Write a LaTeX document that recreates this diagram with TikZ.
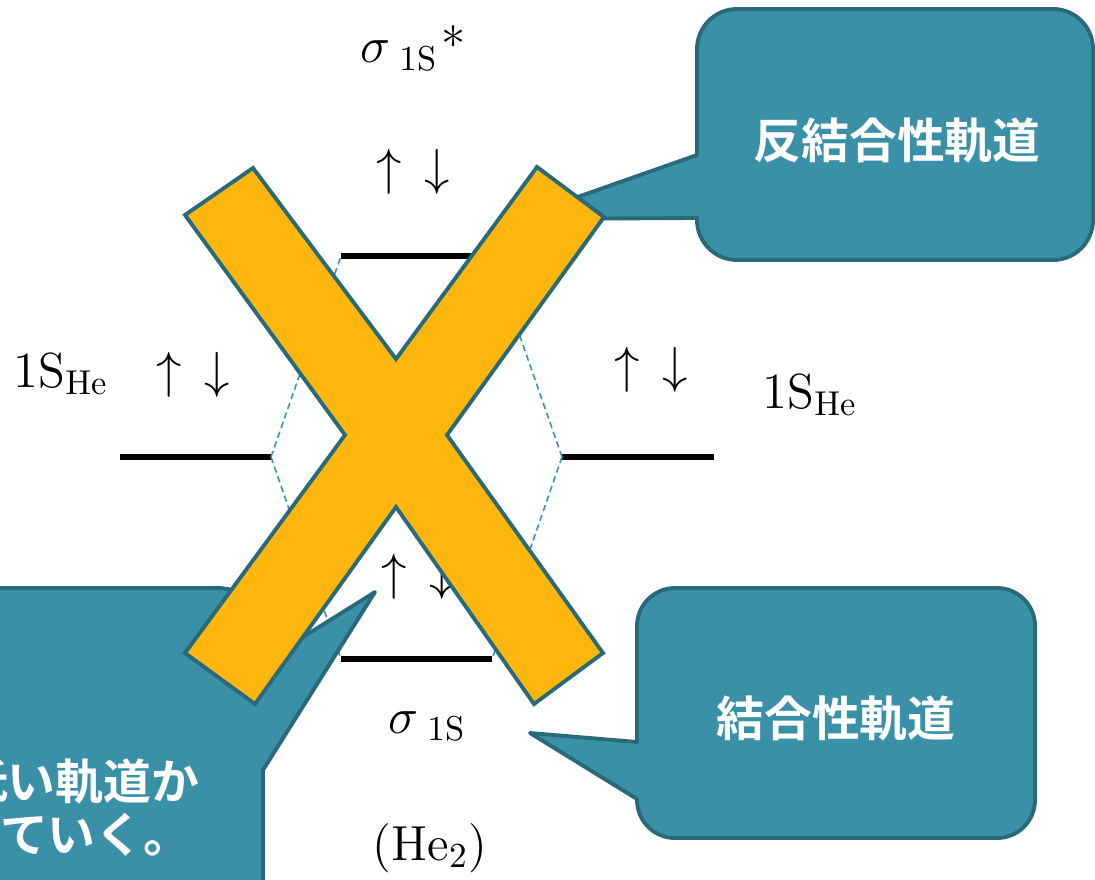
\documentclass[tikz,border=0pt]{standalone}
\usepackage{fontspec}
\newfontfamily\jpfont{Noto Sans CJK JP}[BoldFont={Noto Sans CJK JP Bold}]
\usetikzlibrary{calc}
\definecolor{calloutteal}{RGB}{58,144,166}
\definecolor{darkteal}{RGB}{40,106,122}
\definecolor{crossyellow}{RGB}{253,182,13}
\definecolor{dashteal}{RGB}{60,146,170}
\tikzset{
  label text/.style={font=\fontsize{14}{17}\selectfont, inner sep=0pt},
  level/.style={draw=black, line width=1.7pt},
  mix/.style={draw=dashteal, line width=0.45pt, dash pattern=on 1.8pt off 1.1pt},
  bubble/.style={fill=calloutteal, draw=darkteal, line width=1.1pt},
  bubble text/.style={font=\jpfont\bfseries\fontsize{13.6}{16}\selectfont,
    text=white, inner sep=0pt},
  cross/.style={fill=crossyellow, draw=darkteal, line width=1.1pt, line join=miter}
}
\newcommand{\spins}{$\uparrow$\hspace{0.45em}$\downarrow$}

\begin{document}
\begin{tikzpicture}[x=0.01cm, y=-0.01cm, line join=round]
  \useasboundingbox (0,0) rectangle (1095,879);

  \coordinate (sstar-l) at (341,256);
  \coordinate (sstar-r) at (492,256);
  \coordinate (s-l) at (341,659);
  \coordinate (s-r) at (492,659);
  \coordinate (aol-l) at (120,457);
  \coordinate (aol-r) at (271,457);
  \coordinate (aor-l) at (562,457);
  \coordinate (aor-r) at (714,457);

  \draw[level] (sstar-l) -- (sstar-r);
  \draw[level] (s-l) -- (s-r);
  \draw[level] (aol-l) -- (aol-r);
  \draw[level] (aor-l) -- (aor-r);
  \draw[mix] (aol-r) -- (sstar-l) (aol-r) -- (s-l);
  \draw[mix] (aor-l) -- (sstar-r) (aor-l) -- (s-r);

  \node[label text, anchor=base west] (sstar-label) at (360,63)
    {$\sigma_{\hspace{3pt}1\mathrm{S}}$\hspace{1pt}*};
  \node[label text, anchor=base west] (s-label) at (388,733)
    {$\sigma_{\hspace{3pt}1\mathrm{S}}$};
  \node[label text, anchor=base west] (aol-label) at (13,387)
    {$1\mathrm{S}_{\mathrm{He}}$};
  \node[label text, anchor=base west] (aor-label) at (762,408)
    {$1\mathrm{S}_{\mathrm{He}}$};
  \node[label text, anchor=base] (molecule) at (430,860) {(He$_{2}$)};
  \node[label text] (spin-top) at (413,172) {\spins};
  \node[label text] (spin-left) at (193,375) {\spins};
  \node[label text] (spin-right) at (651,370) {\spins};
  \node[label text] (spin-bottom) at (418,577) {\spins};

  \path[bubble] (697,155) -- (515,219) -- (697,218) -- (697,220)
    arc[start angle=180, end angle=90, radius=40] -- (1053,260)
    arc[start angle=90, end angle=0, radius=40] -- (1093,49)
    arc[start angle=0, end angle=-90, radius=40] -- (737,9)
    arc[start angle=-90, end angle=-180, radius=40] -- cycle;
  \path[bubble] (637,742) -- (530,733) -- (637,799) -- (637,800)
    arc[start angle=180, end angle=90, radius=38] -- (997,838)
    arc[start angle=90, end angle=0, radius=38] -- (1035,626)
    arc[start angle=0, end angle=-90, radius=38] -- (675,588)
    arc[start angle=-90, end angle=-180, radius=38] -- cycle;
  \path[bubble] (-100,588) -- (218,588)
    arc[start angle=-90, end angle=0, radius=45] -- (263,662)
    -- (375,592) -- (263,770) -- (263,990) -- (-100,990) -- cycle;

  \node[bubble text] (antibond) at (897,140) {反結合性軌道};
  \node[bubble text] (bond) at (836,718) {結合性軌道};
  \node[bubble text, anchor=east] (note-a) at (200,781) {低い軌道か};
  \node[bubble text, anchor=east] (note-b) at (192,835) {っていく。};

  \draw[cross] (185,215) -- (253,168) -- (396,359) -- (537,167) -- (604,217)
    -- (447,435) -- (603,653) -- (534,704) -- (396,507) -- (255,704)
    -- (185,653) -- (345,435) -- cycle;
\end{tikzpicture}
\end{document}
